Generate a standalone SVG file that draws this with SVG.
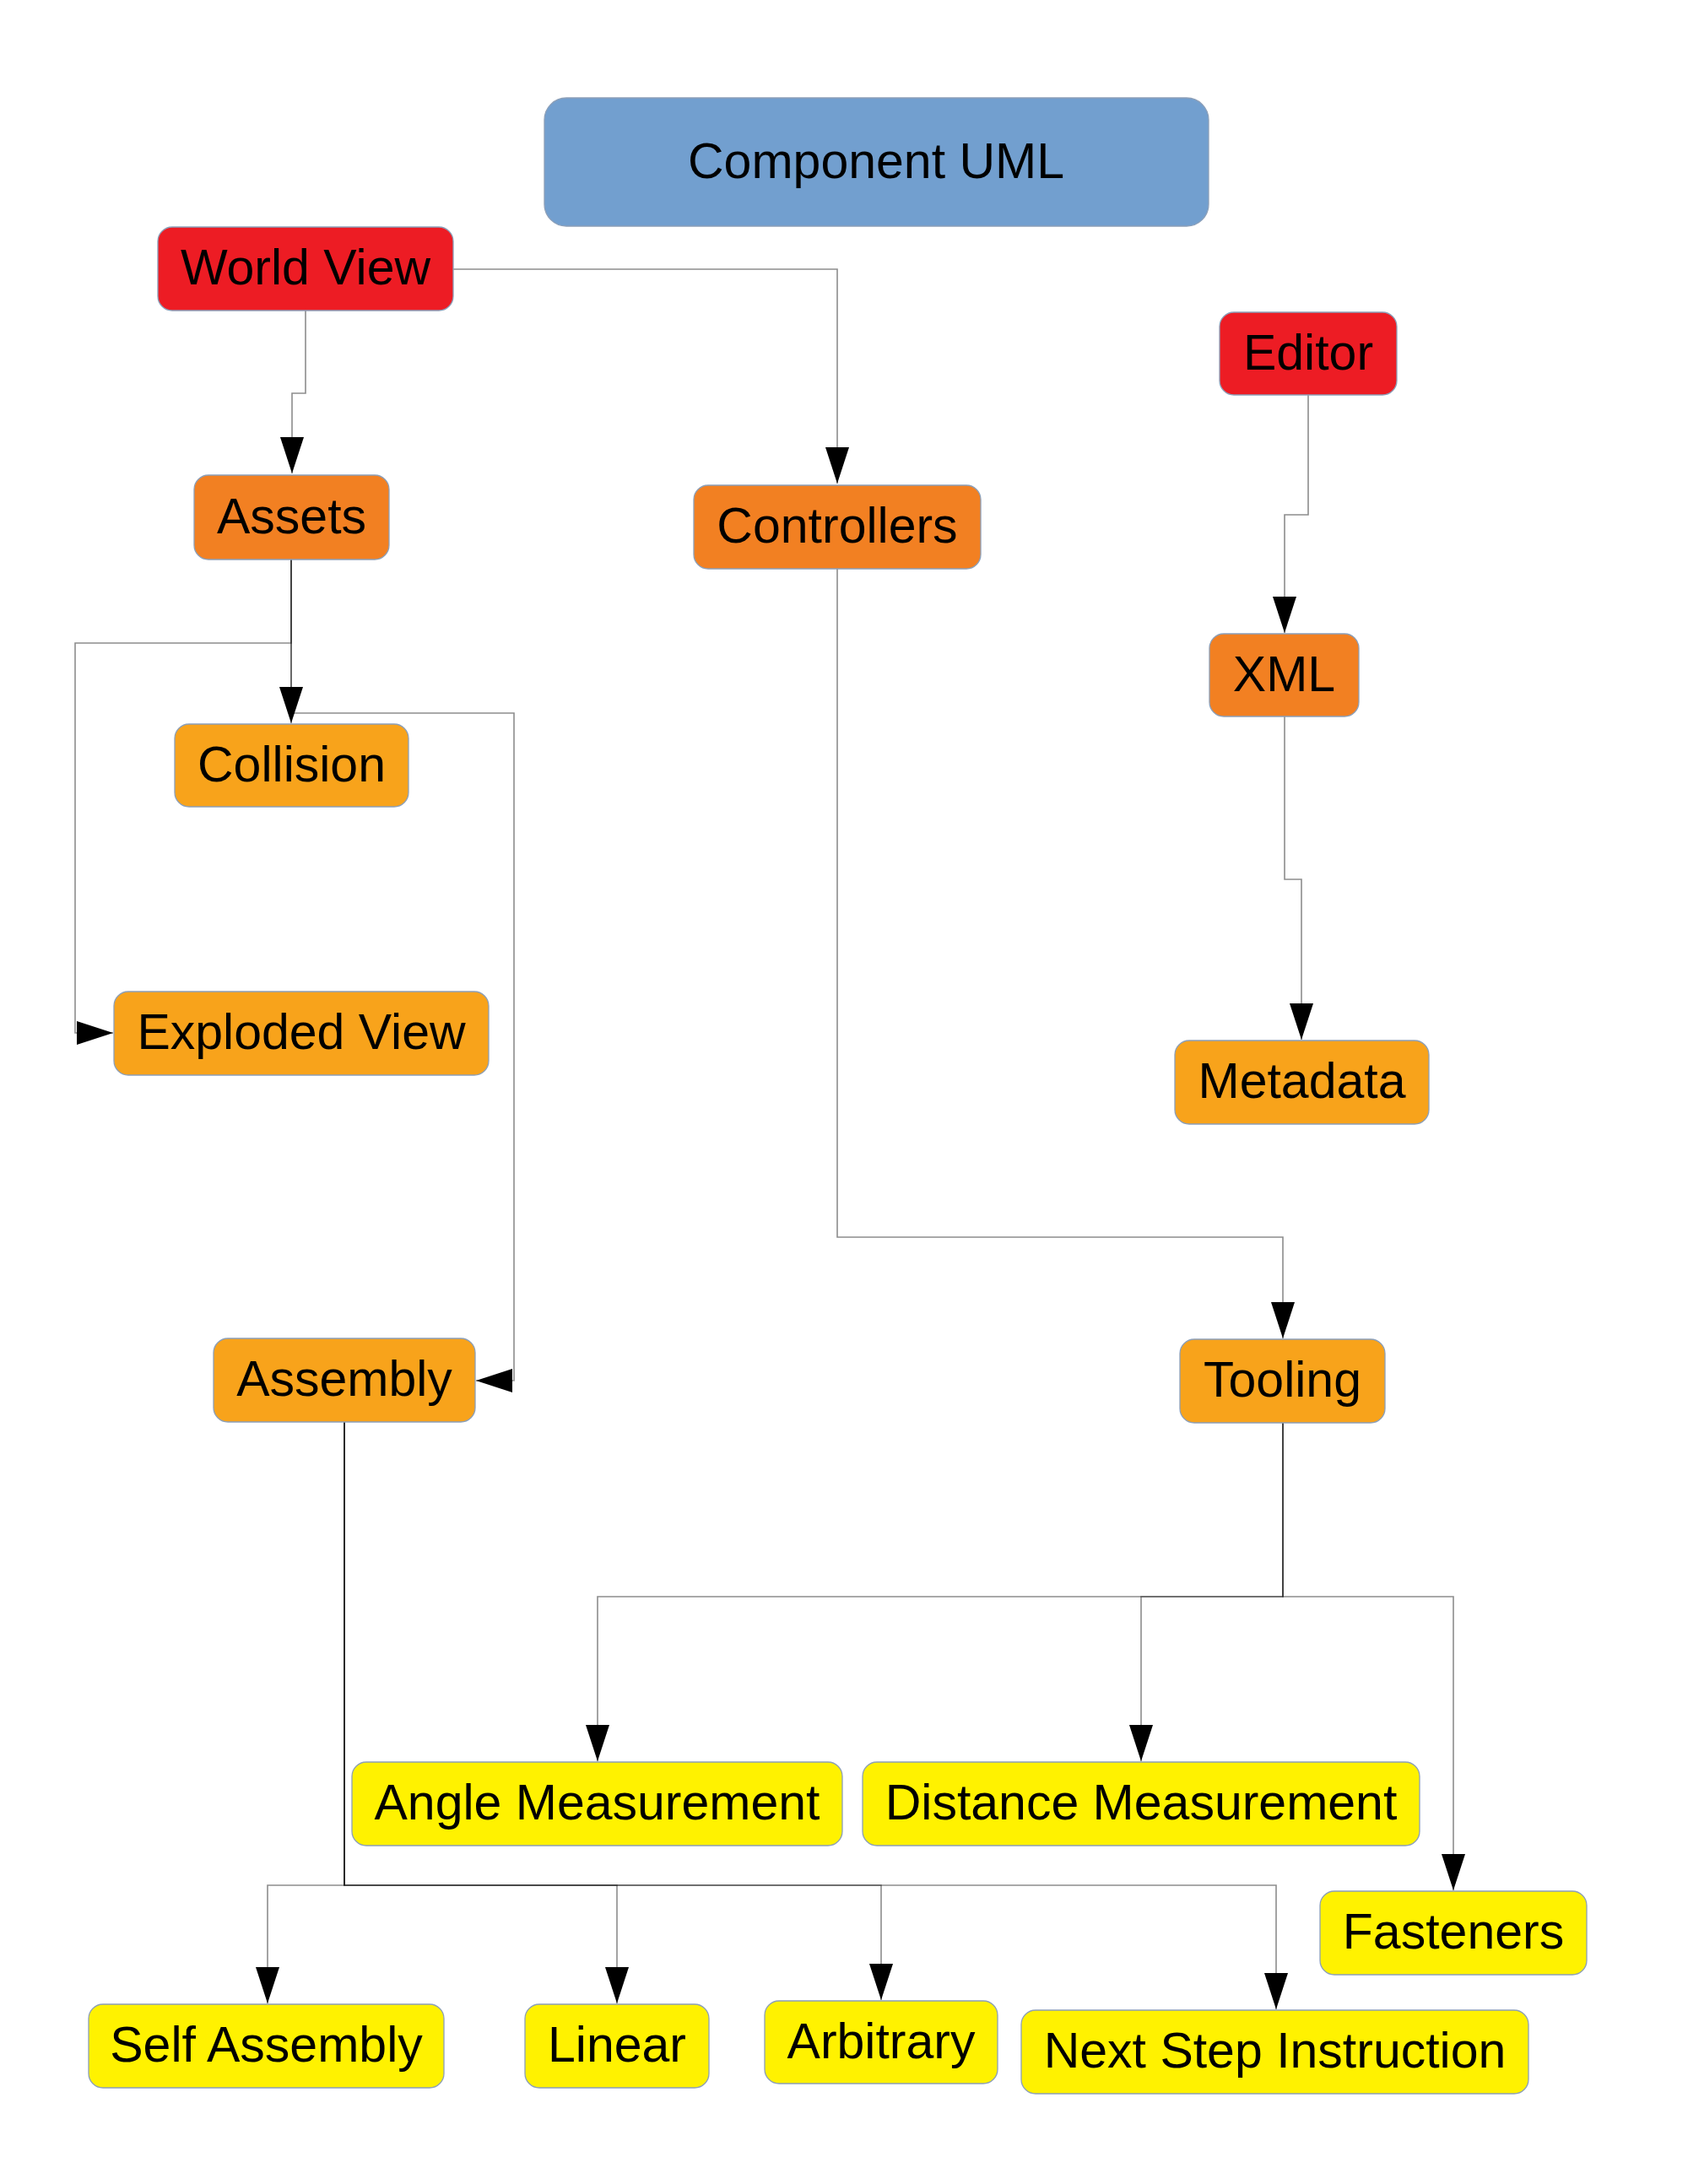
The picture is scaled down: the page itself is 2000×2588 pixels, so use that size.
<svg xmlns="http://www.w3.org/2000/svg" width="2000" height="2588" viewBox="0 0 2000 2588">
<style>
.n{stroke:#8c9fb8;stroke-width:1.3}
.t{font-family:"Liberation Sans",Arial,sans-serif;font-size:59px;fill:#000;text-anchor:middle;dominant-baseline:central}
.red{fill:#ED1C24}
.or{fill:#F28022}
.lo{fill:#F8A31B}
.ye{fill:#FFF200}
.bl{fill:#729FCF}
.c{fill:none;stroke:#000;stroke-opacity:0.45;stroke-width:1.6}
</style>
<defs>
<marker id="a" markerUnits="userSpaceOnUse" markerWidth="44" markerHeight="28" viewBox="0 0 44 28" refX="43" refY="14" orient="auto">
<path d="M0,0 L43,14 L0,28 z" fill="#000"/>
</marker>
</defs>
<rect width="2000" height="2588" fill="#fff"/>
<g id="connectors">
<path class="c" d="M362,368 V466 H346 V561" marker-end="url(#a)"/>
<path class="c" d="M537,319 H992 V573" marker-end="url(#a)"/>
<path class="c" d="M345,663 V857" marker-end="url(#a)"/>
<path class="c" d="M345,663 V762 H89 V1224 H134" marker-end="url(#a)"/>
<path class="c" d="M345,663 V845 H609 V1636 H564" marker-end="url(#a)"/>
<path class="c" d="M1550,468 V610 H1522 V750" marker-end="url(#a)"/>
<path class="c" d="M1522,849 V1042 H1542 V1232" marker-end="url(#a)"/>
<path class="c" d="M992,674 V1466 H1520 V1586" marker-end="url(#a)"/>
<path class="c" d="M1520,1686 V1892 H708 V2087" marker-end="url(#a)"/>
<path class="c" d="M1520,1686 V1892 H1352 V2087" marker-end="url(#a)"/>
<path class="c" d="M1520,1686 V1892 H1722 V2240" marker-end="url(#a)"/>
<path class="c" d="M408,1685 V2234 H317 V2374" marker-end="url(#a)"/>
<path class="c" d="M408,1685 V2234 H731 V2374" marker-end="url(#a)"/>
<path class="c" d="M408,1685 V2234 H1044 V2370" marker-end="url(#a)"/>
<path class="c" d="M408,1685 V2234 H1512 V2381" marker-end="url(#a)"/>
</g>
<g id="component-uml"><rect class="n bl" x="645" y="116" width="787" height="152" rx="26"/><text class="t" x="1038" y="191">Component UML</text></g>
<g id="world-view"><rect class="n red" x="187" y="269" width="350" height="99" rx="17"/><text class="t" x="362" y="317">World View</text></g>
<g id="editor"><rect class="n red" x="1445" y="370" width="210" height="98" rx="17"/><text class="t" x="1550" y="418">Editor</text></g>
<g id="assets"><rect class="n or" x="230" y="563" width="231" height="100" rx="17"/><text class="t" x="345.5" y="612">Assets</text></g>
<g id="controllers"><rect class="n or" x="822" y="575" width="340" height="99" rx="17"/><text class="t" x="992" y="623">Controllers</text></g>
<g id="xml"><rect class="n or" x="1433" y="751" width="177" height="98" rx="17"/><text class="t" x="1521.5" y="799">XML</text></g>
<g id="collision"><rect class="n lo" x="207" y="858" width="277" height="98" rx="17"/><text class="t" x="345.5" y="906">Collision</text></g>
<g id="exploded-view"><rect class="n lo" x="135" y="1175" width="444" height="99" rx="17"/><text class="t" x="357" y="1223">Exploded View</text></g>
<g id="metadata"><rect class="n lo" x="1392" y="1233" width="301" height="99" rx="17"/><text class="t" x="1542.5" y="1281">Metadata</text></g>
<g id="assembly"><rect class="n lo" x="253" y="1586" width="310" height="99" rx="17"/><text class="t" x="408" y="1634">Assembly</text></g>
<g id="tooling"><rect class="n lo" x="1398" y="1587" width="243" height="99" rx="17"/><text class="t" x="1519.5" y="1635">Tooling</text></g>
<g id="angle-measurement"><rect class="n ye" x="417" y="2088" width="581" height="99" rx="17"/><text class="t" x="707.5" y="2136">Angle Measurement</text></g>
<g id="distance-measurement"><rect class="n ye" x="1022" y="2088" width="660" height="99" rx="17"/><text class="t" x="1352" y="2136">Distance Measurement</text></g>
<g id="fasteners"><rect class="n ye" x="1564" y="2241" width="316" height="99" rx="17"/><text class="t" x="1722" y="2289">Fasteners</text></g>
<g id="self-assembly"><rect class="n ye" x="105" y="2375" width="421" height="99" rx="17"/><text class="t" x="315.5" y="2423">Self Assembly</text></g>
<g id="linear"><rect class="n ye" x="622" y="2375" width="218" height="99" rx="17"/><text class="t" x="731" y="2423">Linear</text></g>
<g id="arbitrary"><rect class="n ye" x="906" y="2371" width="276" height="98" rx="17"/><text class="t" x="1044" y="2419">Arbitrary</text></g>
<g id="next-step-instruction"><rect class="n ye" x="1210" y="2382" width="601" height="99" rx="17"/><text class="t" x="1510.5" y="2430">Next Step Instruction</text></g>
</svg>
